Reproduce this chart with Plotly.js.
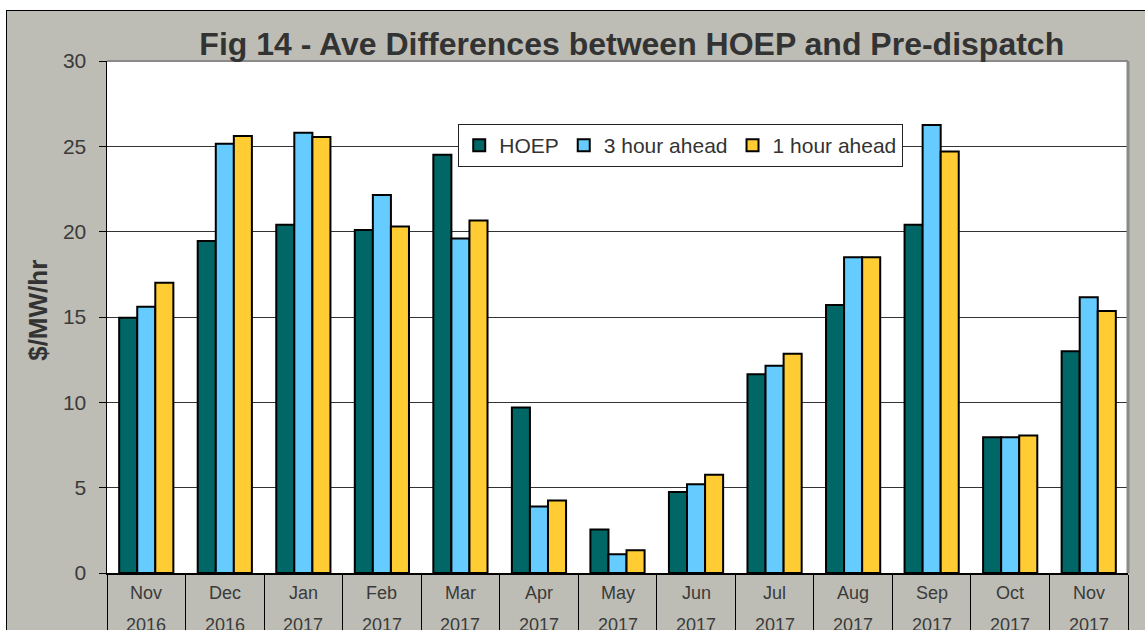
<!DOCTYPE html>
<html>
<head>
<meta charset="utf-8">
<script src="https://cdn.plot.ly/plotly-3.0.1.min.js"></script>
<style>
  html, body { margin: 0; padding: 0; background: #ffffff; width: 1145px; height: 630px; overflow: hidden; }
  #frame { position: absolute; left: 6px; top: 10px; width: 1139px; height: 620px;
           border-top: 1px solid #000; border-left: 1px solid #000; background: #BDBDB5; }
  #plot { position: absolute; left: 0; top: 0; width: 1138px; height: 619px; }
</style>
</head>
<body>
<div id="frame"><div id="plot"></div></div>
<script>
// ---- data ----
const months = ["Nov", "Dec", "Jan", "Feb", "Mar", "Apr", "May", "Jun", "Jul", "Aug", "Sep", "Oct", "Nov"];
const years  = ["2016", "2016", "2017", "2017", "2017", "2017", "2017", "2017", "2017", "2017", "2017", "2017", "2017"];
const hoep       = [14.95, 19.45, 20.4, 20.1, 24.5, 9.7, 2.55, 4.75, 11.65, 15.7, 20.4, 7.95, 13.0];
const hourAhead3 = [15.6, 25.15, 25.8, 22.15, 19.6, 3.9, 1.1, 5.2, 12.15, 18.5, 26.25, 7.95, 16.15];
const hourAhead1 = [17.0, 25.6, 25.55, 20.3, 20.65, 4.25, 1.33, 5.75, 12.85, 18.5, 24.7, 8.05, 15.35];
const seriesNames = ["HOEP", "3 hour ahead", "1 hour ahead"];
const yTicks = [0, 5, 10, 15, 20, 25, 30];

// ---- chart ----
const cats = months.map((m, i) => m + " " + years[i]);
const colors = ["#006666", "#66CCFF", "#FFCC33"];
const values = [hoep, hourAhead3, hourAhead1];
const fam = "Arial, Liberation Sans, sans-serif";

const traces = values.map((v, k) => ({
  type: "bar",
  name: seriesNames[k],
  x: cats,
  y: v,
  marker: { color: colors[k], line: { color: "#000000", width: 2 } },
  hoverinfo: "x+y+name"
}));

const txtColor = "#3a3a3a";
const annotations = [];
cats.forEach((c, i) => {
  annotations.push({ x: c, xref: "x", y: -0.039, yref: "paper", text: months[i], showarrow: false,
    yanchor: "middle", font: { family: fam, size: 18, color: txtColor } });
  annotations.push({ x: c, xref: "x", y: -0.102, yref: "paper", text: years[i], showarrow: false,
    yanchor: "middle", font: { family: fam, size: 18, color: txtColor } });
});
annotations.push({ x: -0.0676, xref: "paper", y: 0.514, yref: "paper", text: "<b>$/MW/hr</b>", textangle: -90,
  showarrow: false, xanchor: "center", yanchor: "middle",
  font: { family: fam, size: 26, color: "#333333" } });

const layout = {
  width: 1138, height: 619,
  margin: { l: 100, r: 17, t: 50, b: 57 },
  paper_bgcolor: "rgba(0,0,0,0)",
  plot_bgcolor: "#ffffff",
  bargap: 0.31,
  bargroupgap: 0,
  showlegend: true,
  title: {
    text: "<b>Fig 14 - Ave Differences between HOEP and Pre-dispatch</b>",
    xref: "container", x: 0.549, xanchor: "center",
    yref: "container", y: 0.947, yanchor: "middle",
    font: { family: fam, size: 32, color: "#333333" }
  },
  legend: {
    orientation: "h", x: 0.344, xanchor: "left", y: 0.877, yanchor: "top",
    bgcolor: "#ffffff", bordercolor: "#222222", borderwidth: 1,
    font: { family: fam, size: 21, color: "#333333" },
    itemwidth: 30, traceorder: "normal"
  },
  xaxis: {
    type: "category",
    showticklabels: false,
    ticks: "outside", tickson: "boundaries", ticklen: 70, tickcolor: "#000000", tickwidth: 1,
    showline: true, linecolor: "#000000", linewidth: 1.5,
    showgrid: false, fixedrange: true
  },
  yaxis: {
    range: [0, 30],
    tickvals: yTicks, ticktext: yTicks.map(String),
    ticks: "outside", ticklen: 7, tickcolor: "#000000", tickwidth: 1,
    ticklabelstandoff: 8,
    tickfont: { family: fam, size: 21, color: txtColor },
    showline: true, linecolor: "#000000", linewidth: 1.5,
    showgrid: true, gridcolor: "#333333", gridwidth: 1,
    zeroline: false, fixedrange: true
  },
  shapes: [
    { type: "line", xref: "paper", yref: "paper", x0: 0, x1: 1, y0: 1, y1: 1, line: { color: "#8a8a8a", width: 2 } },
    { type: "line", xref: "paper", yref: "paper", x0: 1, x1: 1, y0: 0, y1: 1, line: { color: "#8a8a8a", width: 3 } }
  ],
  annotations: annotations
};

Plotly.newPlot("plot", traces, layout, { displayModeBar: false, staticPlot: true });
</script>
</body>
</html>
